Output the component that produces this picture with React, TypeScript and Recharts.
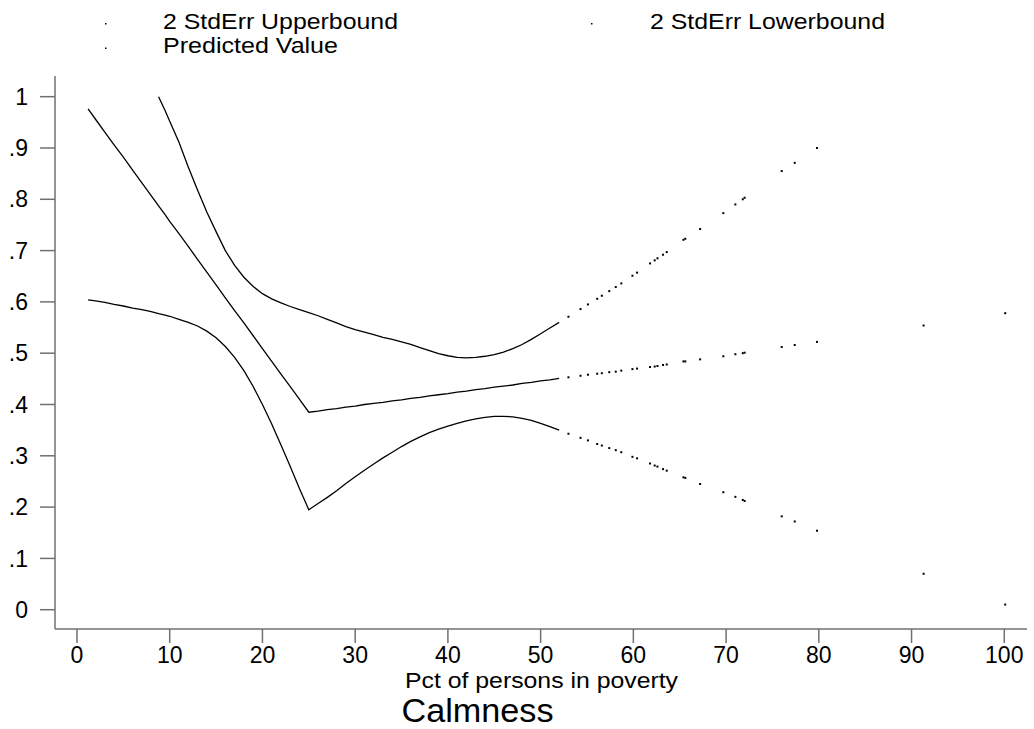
import React from 'react'
import { ScatterChart, Scatter, XAxis, YAxis } from 'recharts'

// observations: percent of persons in poverty
const povertyPct = [
  1.2, 2, 3, 4, 5, 6, 7, 8, 8.8, 9.5,
  10, 11, 12, 13, 14, 15, 16, 17, 18, 19,
  20, 21, 22, 23, 24, 25, 26, 27, 28, 29,
  30, 31, 32, 33, 34, 35, 36, 37, 38, 39,
  40, 41, 42, 43, 44, 45, 46, 47, 48, 49,
  50, 51, 52,
  53.0, 54.3, 55.1, 56.1, 56.6, 57.4, 58.1, 58.7, 59.9, 60.4,
  61.8, 62.3, 62.6, 63.2, 63.6, 65.4, 65.6, 67.2, 69.7, 71.0,
  71.8, 72.0, 76.0, 77.4, 79.8, 91.3, 100.1,
]

const upperBound: (number | null)[] = [
  null, null, null, null, null, null, null, null, 1.0, 0.973,
  0.952, 0.911, 0.863, 0.818, 0.775, 0.737, 0.7, 0.671, 0.648, 0.63,
  0.616, 0.606, 0.598, 0.591, 0.585, 0.579, 0.573, 0.566, 0.559, 0.552,
  0.546, 0.541, 0.536, 0.531, 0.527, 0.522, 0.517, 0.511, 0.505, 0.499,
  0.495, 0.492, 0.491, 0.492, 0.494, 0.497, 0.502, 0.509, 0.517, 0.527,
  0.538, 0.549, 0.56,
  0.571, 0.586, 0.595, 0.606, 0.612, 0.621, 0.629, 0.636, 0.651, 0.657,
  0.675, 0.681, 0.685, 0.692, 0.697, 0.721, 0.723, 0.742, 0.773, 0.79,
  0.8, 0.803, 0.855, 0.871, 0.9, null, null,
]

const lowerBound: (number | null)[] = [
  0.604, 0.602, 0.599, 0.595, 0.592, 0.588, 0.585, 0.581, 0.577, 0.574,
  0.572, 0.566, 0.56, 0.553, 0.543, 0.53, 0.513, 0.492, 0.466, 0.435,
  0.4, 0.362, 0.321, 0.279, 0.236, 0.195, 0.207, 0.219, 0.232, 0.246,
  0.259, 0.272, 0.284, 0.296, 0.307, 0.318, 0.328, 0.337, 0.345, 0.352,
  0.358, 0.363, 0.368, 0.372, 0.375, 0.377, 0.377, 0.376, 0.373, 0.369,
  0.363, 0.357, 0.35,
  0.343, 0.335, 0.33, 0.323, 0.32, 0.315, 0.311, 0.307, 0.298, 0.295,
  0.285, 0.281, 0.279, 0.274, 0.271, 0.258, 0.257, 0.245, 0.229, 0.22,
  0.214, 0.212, 0.182, 0.172, 0.154, 0.07, 0.01,
]

const predicted: (number | null)[] = [
  0.976, 0.956, 0.931, 0.906, 0.882, 0.857, 0.832, 0.807, 0.787, 0.77,
  0.757, 0.733, 0.708, 0.683, 0.658, 0.633, 0.608, 0.583, 0.559, 0.534,
  0.509, 0.484, 0.459, 0.435, 0.41, 0.385, 0.387, 0.39, 0.392, 0.395,
  0.397, 0.4, 0.402, 0.404, 0.407, 0.409, 0.412, 0.414, 0.417, 0.419,
  0.421, 0.424, 0.426, 0.429, 0.431, 0.434, 0.436, 0.438, 0.441, 0.443,
  0.446, 0.448, 0.451,
  0.453, 0.456, 0.458, 0.46, 0.461, 0.463, 0.464, 0.466, 0.469, 0.47,
  0.473, 0.474, 0.475, 0.477, 0.478, 0.484, 0.484, 0.488, 0.494, 0.498,
  0.5, 0.501, 0.512, 0.516, 0.522, 0.554, 0.578,
]

const xTicks = [0, 10, 20, 30, 40, 50, 60, 70, 80, 90, 100]
const yTicks = [0, 0.1, 0.2, 0.3, 0.4, 0.5, 0.6, 0.7, 0.8, 0.9, 1]

const FONT = '"Liberation Sans", Arial, Helvetica, sans-serif'
const DENSE_MAX = 52

function points(vals: (number | null)[]) {
  return povertyPct
    .map((x, i) => ({ x, y: vals[i] }))
    .filter((p) => p.y != null) as { x: number; y: number }[]
}

const series = [upperBound, lowerBound, predicted].map((v) => {
  const all = points(v)
  return {
    dense: all.filter((p) => p.x <= DENSE_MAX),
    sparse: all.filter((p) => p.x > DENSE_MAX),
  }
})

const Dot = (props: { cx?: number; cy?: number }) => {
  const { cx, cy } = props
  if (cx == null || cy == null) return <g />
  return <rect x={cx - 1} y={cy - 1} width={2} height={2} fill="#000" />
}

const fmtY = (v: number) => (v === 0 ? '0' : v === 1 ? '1' : String(Math.round(v * 10) / 10).replace(/^0/, ''))

export default function App() {
  const axisStroke = { stroke: '#707070', strokeWidth: 1.5 }
  return (
    <div style={{ position: 'absolute', left: 0, top: 0, width: 1034, height: 729, background: '#fff' }}>
      <ScatterChart width={1034} height={729} margin={{ top: 76, right: 7, bottom: 0, left: 0 }}>
        <XAxis
          type="number"
          dataKey="x"
          domain={[-2.37, 102.45]}
          allowDataOverflow
          ticks={xTicks}
          height={100}
          tickSize={14}
          tickMargin={4}
          axisLine={axisStroke}
          tickLine={axisStroke}
          tick={{ fontSize: 23, fill: '#000', fontFamily: FONT }}
        />
        <YAxis
          type="number"
          dataKey="y"
          domain={[-0.0376, 1.0403]}
          allowDataOverflow
          ticks={yTicks}
          width={55}
          tickSize={15}
          tickMargin={12}
          tickFormatter={fmtY}
          axisLine={axisStroke}
          tickLine={axisStroke}
          tick={{ fontSize: 23, fill: '#000', fontFamily: FONT }}
        />
        {series.map((s, i) => (
          <Scatter
            key={'d' + i}
            data={s.dense}
            line={{ stroke: '#000', strokeWidth: 1.3 }}
            lineType="joint"
            shape={() => <g />}
            isAnimationActive={false}
          />
        ))}
        {series.map((s, i) => (
          <Scatter key={'s' + i} data={s.sparse} shape={<Dot />} isAnimationActive={false} />
        ))}
      </ScatterChart>
      <svg
        width={1034}
        height={729}
        style={{ position: 'absolute', left: 0, top: 0, pointerEvents: 'none' }}
        fontFamily={FONT}
      >
        <rect x={105} y={23} width={1.5} height={1.5} fill="#000" />
        <text x={163} y={29.3} fontSize={22} textLength={235} lengthAdjust="spacingAndGlyphs">
          2 StdErr Upperbound
        </text>
        <rect x={591} y={23} width={1.5} height={1.5} fill="#000" />
        <text x={650} y={29.3} fontSize={22} textLength={235} lengthAdjust="spacingAndGlyphs">
          2 StdErr Lowerbound
        </text>
        <rect x={105} y={47.5} width={1.5} height={1.5} fill="#000" />
        <text x={163} y={53.3} fontSize={22} textLength={175} lengthAdjust="spacingAndGlyphs">
          Predicted Value
        </text>
        <text x={405} y={688.3} fontSize={22} textLength={273} lengthAdjust="spacingAndGlyphs">
          Pct of persons in poverty
        </text>
        <text x={401.5} y={721.7} fontSize={34} textLength={152} lengthAdjust="spacingAndGlyphs">
          Calmness
        </text>
      </svg>
    </div>
  )
}
